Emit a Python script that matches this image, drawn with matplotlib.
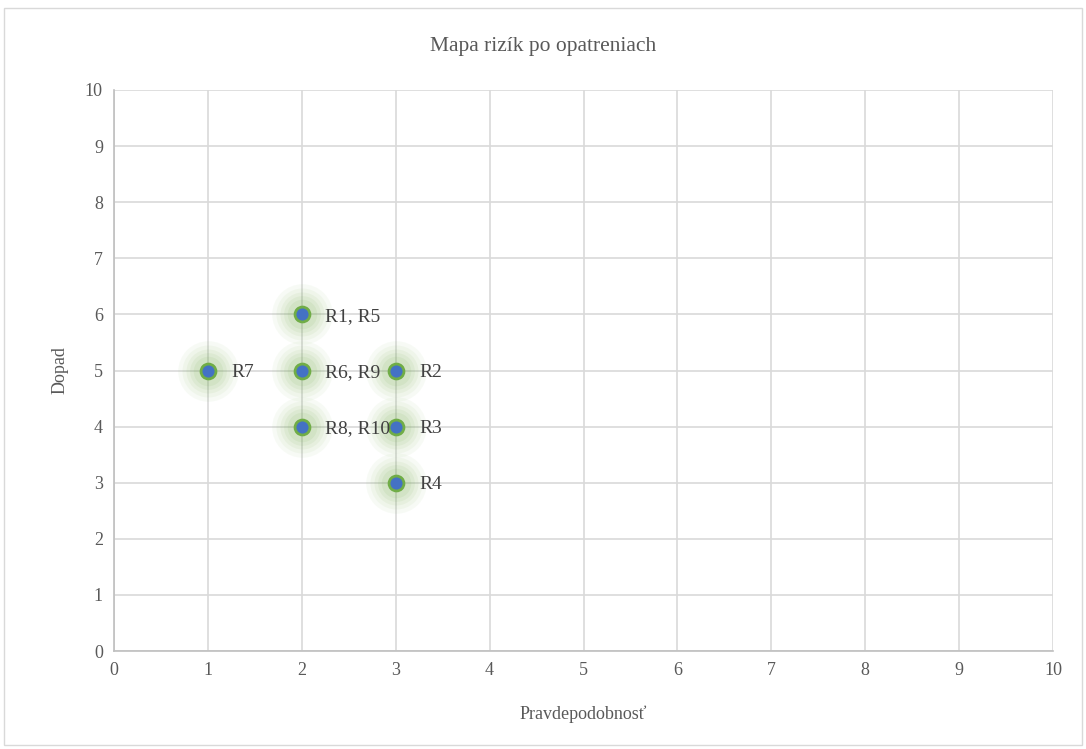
import matplotlib
matplotlib.use("Agg")
import matplotlib.pyplot as plt
from matplotlib.patches import Rectangle

# Data
labels = ["R1, R5", "R7", "R6, R9", "R2", "R8, R10", "R3", "R4"]
pravdepodobnost = [2, 1, 2, 3, 2, 3, 3]
dopad = [6, 5, 5, 5, 4, 4, 3]
ticks = list(range(0, 11))

plt.rcParams['font.family'] = ['Liberation Serif', 'DejaVu Serif']
txt = '#595959'

fig = plt.figure(figsize=(10.86, 7.49), dpi=100)
ax = fig.add_axes([114/1086, 98/749, (1053-114)/1086, (651-90)/749])

# border of chart area
fig.patches.append(Rectangle((4/1086, 4/749), 1078/1086, 737/749, transform=fig.transFigure,
                             fill=False, edgecolor='#d9d9d9', linewidth=1))

ax.set_xlim(0, 10)
ax.set_ylim(0, 10)
ax.set_xticks(ticks)
ax.set_yticks(ticks)
ax.grid(True, color='#d9d9d9', linewidth=1.2, zorder=0)
for s in ['top', 'right']:
    ax.spines[s].set_visible(False)
for s in ['left', 'bottom']:
    ax.spines[s].set_color('#bfbfbf')
    ax.spines[s].set_linewidth(1.2)
ax.tick_params(length=0, labelsize=13, colors=txt, pad=8)
ax.set_axisbelow(True)

# glow
for size, alpha in [(1900, 0.05), (1400, 0.06), (1000, 0.07), (700, 0.08), (450, 0.09)]:
    ax.scatter(pravdepodobnost, dopad, s=size, color='#70AD47', alpha=alpha, linewidths=0, zorder=2)
ax.scatter(pravdepodobnost, dopad, s=115, color='#4472C4', edgecolors='#70AD47', linewidths=2, zorder=3)

for x, y, l in zip(pravdepodobnost, dopad, labels):
    ax.annotate(l, (x, y), xytext=(17, 0), textcoords='offset points', va='center_baseline', ha='left',
                fontsize=14, color='#404040', zorder=4)

ax.set_xlabel('Pravdepodobnosť', fontsize=13, color=txt, labelpad=19)
ax.set_ylabel('Dopad', fontsize=13, color=txt, labelpad=12)
fig.text(0.5, 1 - 47/749, 'Mapa rizík po opatreniach', ha='center', va='center', fontsize=15.5, color=txt)

fig.savefig('out.png', dpi=100)
